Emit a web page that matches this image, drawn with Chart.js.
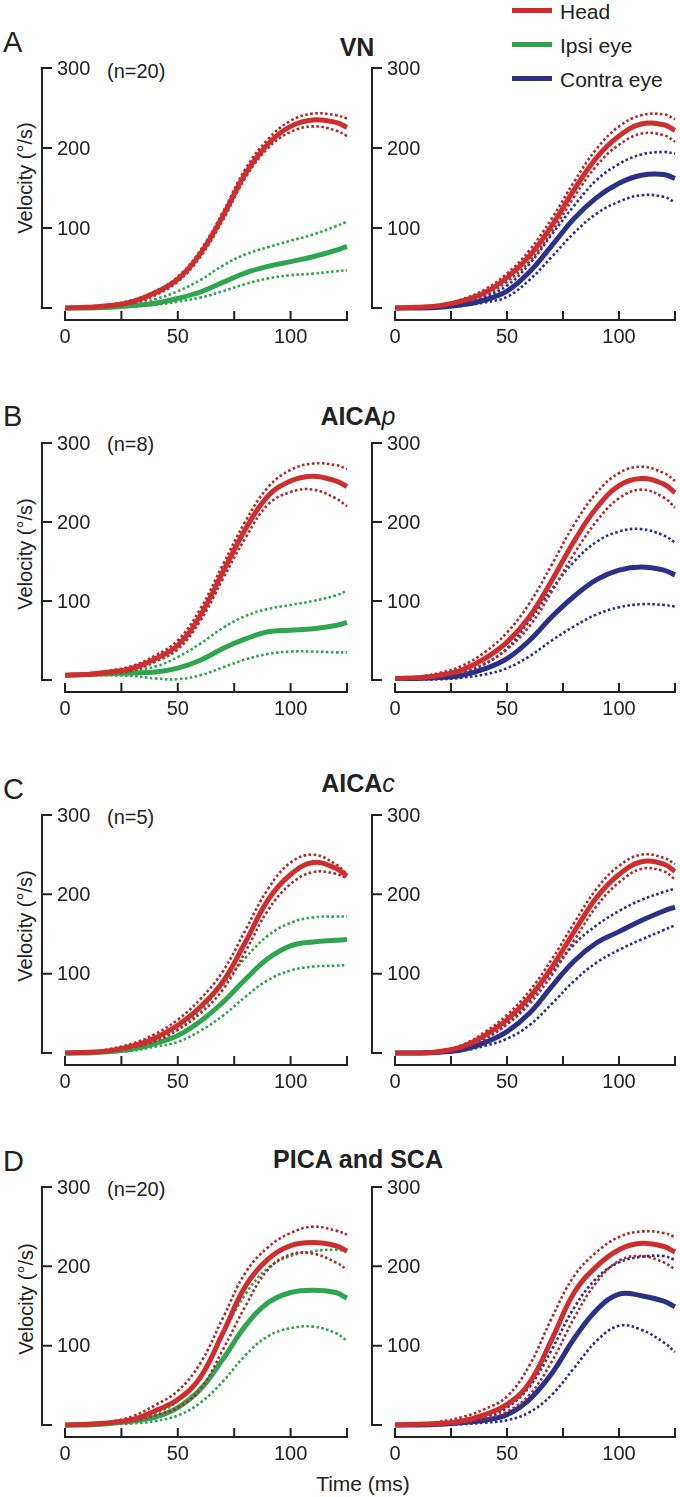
<!DOCTYPE html>
<html>
<head>
<meta charset="utf-8">
<script src="https://cdn.jsdelivr.net/npm/chart.js@4.4.1/dist/chart.umd.min.js"></script>
<style>
  body { margin: 0; background: #fff; }
  #page { position: relative; width: 680px; height: 1497px; font-family: "Liberation Sans", Arial, sans-serif; color: #222; }
  #page canvas { position: absolute; }
  .txt { position: absolute; white-space: nowrap; line-height: 1; transform: translateY(-50%); }
  .letter { font-size: 29px; left: 3px; }
  .title { font-size: 25px; font-weight: bold; transform: translate(-50%, -50%); }
  .count { font-size: 20px; left: 107px; }
  .ylab { font-size: 20px; transform: translate(-50%, -50%) rotate(-90deg); }
  .leg { font-size: 21px; left: 560px; }
  .bar { position: absolute; left: 512px; width: 40px; height: 5px; }
</style>
</head>
<body>
<div id="page">
  <div class="bar" style="top:8px;background:#cf2e2e"></div>
  <div class="bar" style="top:42px;background:#2fa550"></div>
  <div class="bar" style="top:76px;background:#2b3089"></div>
  <div class="txt leg" style="top:11px">Head</div>
  <div class="txt leg" style="top:45px">Ipsi eye</div>
  <div class="txt leg" style="top:79px">Contra eye</div>

  <div class="txt letter" style="top:42px">A</div>
  <div class="txt letter" style="top:416px">B</div>
  <div class="txt letter" style="top:789px">C</div>
  <div class="txt letter" style="top:1161px">D</div>

  <div class="txt title" style="left:357px;top:47px">VN</div>
  <div class="txt title" style="left:358px;top:416px">AICA<i style="font-weight:normal">p</i></div>
  <div class="txt title" style="left:358px;top:783px">AICA<i style="font-weight:normal">c</i></div>
  <div class="txt title" style="left:358px;top:1159px">PICA and SCA</div>

  <div class="txt count" style="top:71px">(n=20)</div>
  <div class="txt count" style="top:444px">(n=8)</div>
  <div class="txt count" style="top:817px">(n=5)</div>
  <div class="txt count" style="top:1189px">(n=20)</div>

  <div class="txt ylab" style="left:25px;top:178px">Velocity (°/s)</div>
  <div class="txt ylab" style="left:25px;top:554px">Velocity (°/s)</div>
  <div class="txt ylab" style="left:25px;top:926px">Velocity (°/s)</div>
  <div class="txt ylab" style="left:26px;top:1299px">Velocity (°/s)</div>

  <div class="txt" style="font-size:21px;left:363px;top:1483px;transform:translate(-50%,-50%)">Time (ms)</div>

  <canvas id="aL"></canvas><canvas id="aR"></canvas>
  <canvas id="bL"></canvas><canvas id="bR"></canvas>
  <canvas id="cL"></canvas><canvas id="cR"></canvas>
  <canvas id="dL"></canvas><canvas id="dR"></canvas>
</div>

<script>
// time samples (ms)
const times = [0, 10, 20, 30, 40, 50, 60, 70, 80, 90, 100, 110, 120, 125];

// axis ticks
const yTicks = [0, 100, 200, 300];
const yTickLabels = ['', '100', '200', '300'];
const xTicks = [0, 25, 50, 75, 100, 125];
const xTickLabels = ['0', '', '50', '', '100', ''];

// A - VN, ipsi side
const aLHead   = [0, 1, 3, 8, 19, 36, 68, 115, 168, 205, 227, 235, 232, 226];
const aLHeadHi = [0, 1, 4, 10, 21, 39, 72, 120, 174, 211, 234, 243, 241, 237];
const aLHeadLo = [0, 0, 2, 6, 16, 33, 64, 110, 163, 200, 220, 227, 222, 215];
const aLEye    = [0, 0, 1, 3, 6, 12, 20, 32, 44, 52, 58, 64, 72, 77];
const aLEyeHi  = [0, 0, 2, 5, 11, 21, 35, 53, 67, 76, 84, 92, 102, 108];
const aLEyeLo  = [0, 0, 0, 2, 4, 8, 13, 21, 30, 37, 41, 43, 46, 47];
// A - VN, contra side
const aRHead   = [0, 1, 3, 9, 19, 38, 65, 103, 148, 188, 215, 230, 229, 222];
const aRHeadHi = [0, 1, 4, 11, 23, 43, 72, 112, 158, 199, 227, 241, 242, 236];
const aRHeadLo = [0, 0, 2, 7, 16, 33, 58, 95, 139, 178, 204, 218, 216, 208];
const aREye    = [0, 0, 1, 4, 10, 21, 45, 78, 112, 138, 156, 166, 167, 162];
const aREyeHi  = [0, 0, 2, 6, 14, 28, 55, 92, 128, 160, 180, 192, 195, 193];
const aREyeLo  = [0, 0, 1, 3, 7, 14, 35, 64, 94, 118, 133, 141, 139, 132];

// B - AICAp
const bLHead   = [6, 7, 10, 15, 27, 44, 82, 137, 191, 233, 252, 258, 252, 245];
const bLHeadHi = [6, 8, 12, 18, 31, 50, 90, 146, 201, 244, 266, 274, 272, 267];
const bLHeadLo = [5, 6, 8, 12, 23, 39, 75, 128, 180, 222, 238, 241, 230, 220];
const bLEye    = [6, 7, 8, 9, 10, 15, 25, 40, 52, 61, 63, 65, 69, 73];
const bLEyeHi  = [6, 8, 10, 12, 17, 29, 46, 66, 81, 90, 95, 100, 107, 113];
const bLEyeLo  = [6, 6, 6, 5, 2, 1, 6, 16, 26, 33, 36, 36, 35, 35];
const bRHead   = [2, 3, 6, 13, 27, 48, 80, 126, 176, 218, 246, 255, 248, 237];
const bRHeadHi = [2, 4, 9, 18, 35, 60, 97, 146, 197, 237, 262, 270, 262, 252];
const bRHeadLo = [2, 3, 5, 10, 21, 39, 68, 112, 160, 201, 230, 241, 231, 218];
const bREye    = [2, 2, 3, 6, 14, 27, 50, 80, 106, 127, 139, 143, 139, 133];
const bREyeHi  = [2, 2, 4, 9, 20, 40, 75, 115, 150, 175, 188, 191, 183, 174];
const bREyeLo  = [2, 1, 1, 3, 7, 15, 30, 50, 68, 83, 92, 96, 95, 93];

// C - AICAc
const cLHead   = [0, 1, 3, 9, 19, 35, 58, 90, 140, 193, 225, 240, 233, 223];
const cLHeadHi = [0, 1, 5, 12, 24, 42, 68, 103, 155, 207, 240, 250, 238, 225];
const cLHeadLo = [0, 1, 2, 7, 15, 29, 50, 80, 128, 180, 213, 228, 226, 220];
const cLEye    = [0, 0, 2, 5, 12, 22, 40, 64, 93, 119, 135, 140, 142, 143];
const cLEyeHi  = [0, 1, 3, 7, 16, 30, 54, 86, 120, 148, 164, 171, 172, 172];
const cLEyeLo  = [0, 0, 1, 3, 8, 14, 28, 47, 71, 92, 104, 109, 110, 111];
const cRHead   = [0, 0, 2, 8, 22, 42, 70, 108, 153, 196, 225, 241, 238, 229];
const cRHeadHi = [0, 1, 3, 10, 26, 48, 78, 118, 164, 207, 236, 250, 246, 238];
const cRHeadLo = [0, 0, 1, 6, 18, 36, 62, 98, 142, 185, 215, 232, 229, 219];
const cREye    = [0, 0, 1, 4, 13, 27, 50, 84, 116, 139, 153, 167, 179, 184];
const cREyeHi  = [0, 0, 2, 6, 18, 37, 66, 103, 137, 161, 179, 193, 203, 207];
const cREyeLo  = [0, 0, 1, 3, 9, 18, 35, 62, 91, 114, 130, 143, 155, 161];

// D - PICA and SCA
const dLHead   = [0, 1, 3, 7, 18, 32, 60, 116, 175, 209, 226, 230, 226, 219];
const dLHeadHi = [0, 1, 4, 11, 25, 43, 78, 135, 192, 224, 242, 250, 245, 240];
const dLHeadLo = [0, 0, 2, 5, 12, 22, 45, 95, 150, 196, 215, 216, 205, 196];
const dLEye    = [0, 0, 2, 5, 10, 22, 45, 83, 125, 154, 167, 170, 167, 160];
const dLEyeHi  = [0, 1, 3, 7, 15, 30, 62, 115, 165, 198, 213, 219, 221, 219];
const dLEyeLo  = [0, 0, 1, 2, 5, 12, 28, 55, 88, 112, 122, 124, 116, 106];
const dRHead   = [0, 1, 2, 5, 13, 26, 53, 108, 167, 200, 221, 229, 225, 218];
const dRHeadHi = [0, 1, 4, 10, 20, 36, 75, 135, 188, 218, 237, 244, 242, 237];
const dRHeadLo = [0, 0, 1, 3, 8, 17, 38, 80, 135, 180, 207, 213, 205, 196];
const dREye    = [0, 0, 1, 3, 6, 13, 32, 65, 109, 145, 165, 163, 156, 149];
const dREyeHi  = [0, 0, 1, 4, 10, 22, 48, 95, 148, 185, 205, 212, 213, 208];
const dREyeLo  = [0, 0, 0, 1, 3, 6, 16, 38, 72, 106, 125, 120, 104, 92];

const headColor = '#cf2e2e';
const headSdColor = '#ad2a30';
const ipsiColor = '#2fa550';
const contraColor = '#2b3089';
const axisColor = '#222';
const fontFamily = '"Liberation Sans", Arial, sans-serif';

// y pixel of 300 and 0 for each row
const rows = [[68, 308], [443, 680], [815, 1053], [1187, 1425]];

// axes sit apart from the data, like the original bracket style
const offsetAxes = {
  id: 'offsetAxes',
  afterDatasetsDraw(chart) {
    const { ctx, chartArea, scales: { x, y } } = chart;
    const ax = chartArea.left - 23;
    const ay = chartArea.bottom + 12;
    ctx.save();
    ctx.strokeStyle = axisColor;
    ctx.fillStyle = axisColor;
    ctx.lineWidth = 2;
    ctx.lineCap = 'butt';
    ctx.beginPath();
    ctx.moveTo(ax + 10, y.getPixelForValue(300));
    ctx.lineTo(ax, y.getPixelForValue(300));
    ctx.lineTo(ax, y.getPixelForValue(0));
    ctx.lineTo(ax + 10, y.getPixelForValue(0));
    yTicks.forEach(v => {
      const py = y.getPixelForValue(v);
      ctx.moveTo(ax, py);
      ctx.lineTo(ax + 10, py);
    });
    ctx.moveTo(x.getPixelForValue(0), ay);
    ctx.lineTo(x.getPixelForValue(125), ay);
    xTicks.forEach(v => {
      const px = x.getPixelForValue(v);
      ctx.moveTo(px, ay + 1);
      ctx.lineTo(px, ay - 9);
    });
    ctx.stroke();

    ctx.font = '20px ' + fontFamily;
    ctx.textBaseline = 'middle';
    ctx.textAlign = 'left';
    yTicks.forEach((v, i) => ctx.fillText(yTickLabels[i], ax + 15, y.getPixelForValue(v) + 1));
    ctx.textAlign = 'center';
    xTicks.forEach((v, i) => ctx.fillText(xTickLabels[i], x.getPixelForValue(v), ay + 17));
    ctx.restore();
  },
};

function line(data, color, sd) {
  return {
    data: data.map((v, i) => ({ x: times[i], y: v })),
    borderColor: color,
    borderWidth: sd ? 2.6 : 5,
    borderDash: sd ? [2.6, 2.4] : [],
    borderCapStyle: 'butt',
    pointRadius: 0,
    tension: 0.4,
    clip: false,
  };
}

function panel(id, row, right, head, headHi, headLo, eye, eyeHi, eyeLo, eyeColor) {
  const [top300, bottom0] = rows[row];
  const canvas = document.getElementById(id);
  const left = right ? 340 : 0;
  const width = right ? 340 : 352;
  const height = bottom0 - top300 + 65;
  canvas.width = width;
  canvas.height = height;
  canvas.style.left = left + 'px';
  canvas.style.top = (top300 - 20) + 'px';
  canvas.style.width = width + 'px';
  canvas.style.height = height + 'px';

  new Chart(canvas.getContext('2d'), {
    type: 'line',
    data: {
      datasets: [
        line(head, headColor, false),
        line(headHi, headSdColor, true),
        line(headLo, headSdColor, true),
        line(eye, eyeColor, false),
        line(eyeHi, eyeColor, true),
        line(eyeLo, eyeColor, true),
      ],
    },
    options: {
      responsive: false,
      animation: false,
      devicePixelRatio: 1,
      layout: { padding: { left: right ? 55 : 65, right: 5, top: 20, bottom: 45 } },
      scales: {
        x: { type: 'linear', min: 0, max: 125, display: false },
        y: { type: 'linear', min: 0, max: 300, display: false },
      },
      plugins: { legend: { display: false }, tooltip: { enabled: false } },
    },
    plugins: [offsetAxes],
  });
}

panel('aL', 0, false, aLHead, aLHeadHi, aLHeadLo, aLEye, aLEyeHi, aLEyeLo, ipsiColor);
panel('aR', 0, true, aRHead, aRHeadHi, aRHeadLo, aREye, aREyeHi, aREyeLo, contraColor);
panel('bL', 1, false, bLHead, bLHeadHi, bLHeadLo, bLEye, bLEyeHi, bLEyeLo, ipsiColor);
panel('bR', 1, true, bRHead, bRHeadHi, bRHeadLo, bREye, bREyeHi, bREyeLo, contraColor);
panel('cL', 2, false, cLHead, cLHeadHi, cLHeadLo, cLEye, cLEyeHi, cLEyeLo, ipsiColor);
panel('cR', 2, true, cRHead, cRHeadHi, cRHeadLo, cREye, cREyeHi, cREyeLo, contraColor);
panel('dL', 3, false, dLHead, dLHeadHi, dLHeadLo, dLEye, dLEyeHi, dLEyeLo, ipsiColor);
panel('dR', 3, true, dRHead, dRHeadHi, dRHeadLo, dREye, dREyeHi, dREyeLo, contraColor);
</script>
</body>
</html>
